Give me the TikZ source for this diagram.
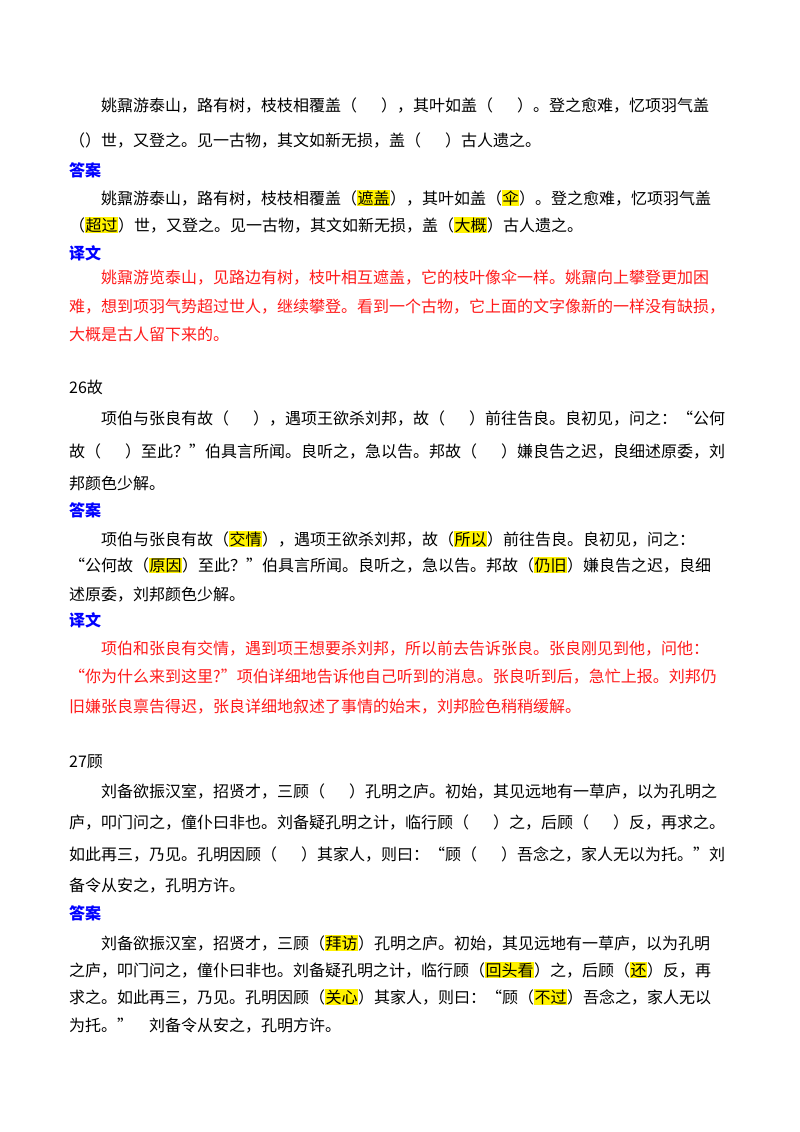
\documentclass[tikz,border=0pt]{standalone}
\usepackage{fontspec}
\usepackage{xcolor}
\setmainfont{Noto Sans CJK SC}
\XeTeXlinebreaklocale "zh"
\XeTeXlinebreakskip=0pt plus 2pt
\definecolor{myblue}{HTML}{0000FF}
\definecolor{myred}{HTML}{FF1A1A}
\newcommand{\hl}[1]{{\setlength{\fboxsep}{0.5pt}\colorbox{yellow}{#1}}}
\newcommand{\bk}{（\hspace{1.5em}）}
\newcommand{\FL}[3]{\node[anchor=base west,inner sep=0pt] at (#1,#2) {\makebox[\dimexpr728pt-#1pt\relax][s]{#3}};}
\newcommand{\PL}[3]{\node[anchor=base west,inner sep=0pt] at (#1,#2) {#3};}
\newcommand{\LB}[2]{\node[anchor=base west,inner sep=0pt,text=myblue,font=\fontsize{16}{16}\selectfont\bfseries] at (69,#1) {#2};}
\begin{document}
\begin{tikzpicture}[x=1pt,y=-1pt,every node/.style={font=\fontsize{16}{16}\selectfont}]
\fill[white] (0,0) rectangle (800,1132);
\useasboundingbox (0,0) rectangle (800,1132);
% block 1
\FL{101}{111}{姚鼐游泰山，路有树，枝枝相覆盖\bk，其叶如盖\bk。登之愈难，忆项羽气盖}
\PL{69}{146}{（）世，又登之。见一古物，其文如新无损，盖\bk 古人遗之。}
\LB{176}{答案}
\FL{101}{204}{姚鼐游泰山，路有树，枝枝相覆盖（\hl{遮盖}），其叶如盖（\hl{伞}）。登之愈难，忆项羽气盖}
\PL{69}{231}{（\hl{超过}）世，又登之。见一古物，其文如新无损，盖（\hl{大概}）古人遗之。}
\LB{259}{译文}
\begin{scope}[every node/.append style={text=myred}]
\FL{101}{283}{姚鼐游览泰山，见路边有树，枝叶相互遮盖，它的枝叶像伞一样。姚鼐向上攀登更加困}
\FL{69}{312}{难，想到项羽气势超过世人，继续攀登。看到一个古物，它上面的文字像新的一样没有缺损，}
\PL{69}{340}{大概是古人留下来的。}
\end{scope}
% block 26
\PL{69}{393}{26故}
\FL{101}{424}{项伯与张良有故\bk，遇项王欲杀刘邦，故\bk 前往告良。良初见，问之：“公何}
\FL{69}{457}{故\bk 至此？”伯具言所闻。良听之，急以告。邦故\bk 嫌良告之迟，良细述原委，刘}
\PL{69}{489}{邦颜色少解。}
\LB{516}{答案}
\FL{101}{545}{项伯与张良有故（\hl{交情}），遇项王欲杀刘邦，故（\hl{所以}）前往告良。良初见，问之：}
\FL{69}{571}{“公何故（\hl{原因}）至此？”伯具言所闻。良听之，急以告。邦故（\hl{仍旧}）嫌良告之迟，良细}
\PL{69}{600}{述原委，刘邦颜色少解。}
\LB{626}{译文}
\begin{scope}[every node/.append style={text=myred}]
\FL{101}{654}{项伯和张良有交情，遇到项王想要杀刘邦，所以前去告诉张良。张良刚见到他，问他：}
\FL{69}{682}{“你为什么来到这里?”项伯详细地告诉他自己听到的消息。张良听到后，急忙上报。刘邦仍}
\PL{69}{712}{旧嫌张良禀告得迟，张良详细地叙述了事情的始末，刘邦脸色稍稍缓解。}
\end{scope}
% block 27
\PL{69}{767}{27顾}
\FL{101}{797}{刘备欲振汉室，招贤才，三顾\bk 孔明之庐。初始，其见远地有一草庐，以为孔明之}
\FL{69}{828}{庐，叩门问之，僮仆曰非也。刘备疑孔明之计，临行顾\bk 之，后顾\bk 反，再求之。}
\FL{69}{860}{如此再三，乃见。孔明因顾\bk 其家人，则曰：“顾\bk 吾念之，家人无以为托。”刘}
\PL{69}{891}{备令从安之，孔明方许。}
\LB{919}{答案}
\FL{101}{949}{刘备欲振汉室，招贤才，三顾（\hl{拜访}）孔明之庐。初始，其见远地有一草庐，以为孔明}
\FL{69}{976}{之庐，叩门问之，僮仆曰非也。刘备疑孔明之计，临行顾（\hl{回头看}）之，后顾（\hl{还}）反，再}
\FL{69}{1003}{求之。如此再三，乃见。孔明因顾（\hl{关心}）其家人，则曰：“顾（\hl{不过}）吾念之，家人无以}
\PL{69}{1031}{为托。”　刘备令从安之，孔明方许。}
\end{tikzpicture}
\end{document}
